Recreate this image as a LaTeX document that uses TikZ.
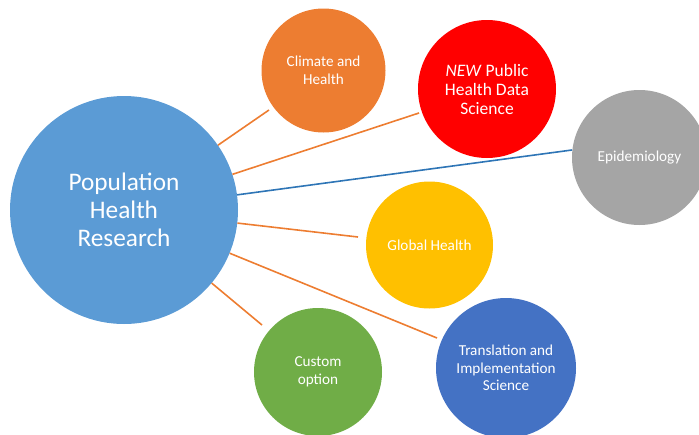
\documentclass[tikz,border=0pt]{standalone}
\usepackage{fontspec}
\setmainfont{Carlito}
\definecolor{bigblue}{HTML}{5B9BD5}
\definecolor{orng}{HTML}{ED7D31}
\definecolor{rd}{HTML}{FF0000}
\definecolor{gry}{HTML}{A5A5A5}
\definecolor{ylw}{HTML}{FFC000}
\definecolor{dblue}{HTML}{4472C4}
\definecolor{grn}{HTML}{70AD47}
\definecolor{lineblue}{HTML}{2E75B6}
\begin{document}
\begin{tikzpicture}[x=1pt,y=-1pt,
  bubble/.style={circle,inner sep=0pt,draw=none,text=white,align=center,
    font=\fontsize{15.2}{17.5}\selectfont},
  orangelink/.style={draw=orng,line width=1.6pt},
  bluelink/.style={draw=lineblue,line width=1.6pt}]
\useasboundingbox (0,0) rectangle (699,434);
\node[bubble,fill=bigblue,minimum size=228pt,font=\fontsize{25.3}{27.8}\selectfont] (big) at (124,210) {Population\\Health\\Research};
\node[bubble,fill=orng,minimum size=124pt] (climate) at (323.5,70.5) {Climate and\\Health};
\node[bubble,fill=rd,minimum size=138pt,font=\fontsize{17.5}{19}\selectfont] (phds) at (487,89) {\textit{NEW} Public\\Health Data\\Science};
\node[bubble,fill=gry,minimum size=135pt] (epi) at (639.5,157.5) {Epidemiology};
\node[bubble,fill=ylw,minimum size=127pt] (global) at (429.5,245) {Global Health};
\node[bubble,fill=dblue,minimum size=140pt] (tis) at (506,368) {Translation and\\Implementation\\Science};
\node[bubble,fill=grn,minimum size=128pt] (custom) at (318,372) {Custom\\option};
\coordinate (e1) at (269,110);
\coordinate (e2) at (419,113);
\coordinate (e3) at (572,150);
\coordinate (e4) at (358,237);
\coordinate (e5) at (437,338);
\coordinate (e6) at (262,325);
\draw[orangelink] (big) -- (e1);
\draw[orangelink] (big) -- (e2);
\draw[bluelink] (big) -- (e3);
\draw[orangelink] (big) -- (e4);
\draw[orangelink] (big) -- (e5);
\draw[orangelink] (big) -- (e6);
\end{tikzpicture}
\end{document}
